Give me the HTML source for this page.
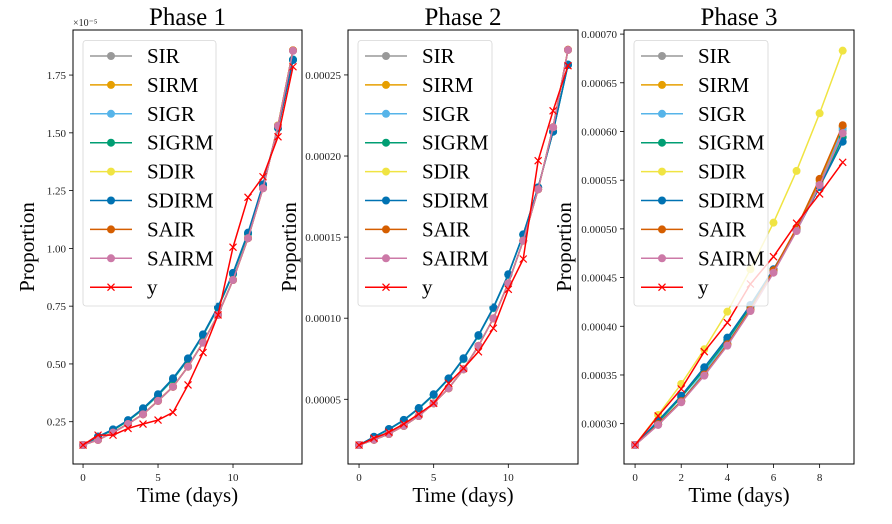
<!DOCTYPE html>
<html><head><meta charset="utf-8"><style>
body{margin:0;background:#fff}
svg{display:block;font-family:"Liberation Serif",serif}
</style></head><body>
<svg id="chart" width="892" height="524" viewBox="0 0 892 524" xmlns="http://www.w3.org/2000/svg"></svg>
<script>
const modelNames = ["SIR","SIRM","SIGR","SIGRM","SDIR","SDIRM","SAIR","SAIRM","y"];
const modelColors = ["#999999","#E69F00","#56B4E9","#009E73","#F0E442","#0072B2","#D55E00","#CC79A7","#FF0000"];
const days1 = [0,1,2,3,4,5,6,7,8,9,10,11,12,13,14];
const days3 = [0,1,2,3,4,5,6,7,8,9];
// Phase 1 (x1e-5)
const p1_SIR   = [0.149,0.172,0.204,0.241,0.283,0.341,0.402,0.489,0.593,0.713,0.864,1.045,1.262,1.532,1.856];
const p1_SIRM  = [0.149,0.172,0.204,0.241,0.283,0.341,0.402,0.489,0.593,0.713,0.864,1.045,1.262,1.532,1.857];
const p1_SIGR  = [0.149,0.183,0.213,0.253,0.303,0.363,0.432,0.518,0.622,0.742,0.888,1.062,1.272,1.520,1.818];
const p1_SIGRM = [0.149,0.184,0.214,0.254,0.304,0.365,0.434,0.520,0.624,0.744,0.890,1.064,1.274,1.521,1.816];
const p1_SDIR  = [0.149,0.171,0.203,0.240,0.282,0.340,0.401,0.488,0.592,0.712,0.863,1.044,1.261,1.531,1.856];
const p1_SDIRM = [0.149,0.186,0.217,0.257,0.308,0.369,0.438,0.524,0.628,0.748,0.894,1.068,1.277,1.522,1.815];
const p1_SAIR  = [0.149,0.171,0.203,0.240,0.282,0.340,0.401,0.488,0.592,0.712,0.863,1.044,1.260,1.530,1.857];
const p1_SAIRM = [0.149,0.171,0.203,0.240,0.282,0.340,0.401,0.488,0.592,0.712,0.863,1.044,1.260,1.530,1.855];
const p1_y     = [0.149,0.192,0.192,0.221,0.240,0.257,0.290,0.409,0.549,0.712,1.005,1.221,1.310,1.483,1.786];
// Phase 2 (x1e-5)
const p2_SIR   = [2.18,2.50,2.86,3.36,3.97,4.75,5.68,6.85,8.29,9.99,12.15,14.78,17.95,21.77,26.54];
const p2_SIRM  = [2.18,2.50,2.86,3.36,3.97,4.75,5.68,6.85,8.29,9.99,12.15,14.78,17.95,21.77,26.55];
const p2_SIGR  = [2.18,2.66,3.13,3.69,4.41,5.26,6.24,7.47,8.90,10.61,12.66,15.13,18.05,21.52,25.65];
const p2_SIGRM = [2.18,2.67,3.15,3.71,4.43,5.28,6.26,7.50,8.93,10.64,12.69,15.15,18.06,21.51,25.63];
const p2_SDIR  = [2.18,2.50,2.86,3.36,3.97,4.75,5.68,6.85,8.29,9.99,12.15,14.78,17.95,21.77,26.54];
const p2_SDIRM = [2.18,2.69,3.17,3.73,4.46,5.31,6.29,7.53,8.96,10.67,12.71,15.17,18.07,21.50,25.61];
const p2_SAIR  = [2.18,2.50,2.86,3.36,3.97,4.75,5.68,6.85,8.29,9.99,12.15,14.78,17.95,21.77,26.55];
const p2_SAIRM = [2.18,2.50,2.86,3.36,3.97,4.75,5.68,6.85,8.29,9.99,12.15,14.78,17.95,21.77,26.54];
const p2_y     = [2.18,2.60,2.97,3.48,4.09,4.75,5.99,6.91,7.93,9.38,11.78,13.65,19.71,22.79,25.57];
// Phase 3 (x1e-5)
const p3_SIR   = [27.81,29.90,32.25,35.00,38.10,41.65,45.60,49.90,54.70,60.10];
const p3_SIRM  = [27.81,29.95,32.30,35.05,38.15,41.70,45.70,50.05,55.00,60.50];
const p3_SIGR  = [27.81,30.10,32.30,35.30,38.40,41.95,45.75,49.85,54.30,60.30];
const p3_SIGRM = [27.81,30.20,32.70,35.55,38.60,42.05,45.80,49.85,54.30,59.40];
const p3_SDIR  = [27.81,30.89,34.08,37.64,41.50,45.85,50.64,55.95,61.87,68.30];
const p3_SDIRM = [27.81,30.31,32.87,35.79,38.83,42.19,45.85,49.89,54.33,58.95];
const p3_SAIR  = [27.81,29.95,32.30,35.05,38.15,41.75,45.75,50.10,55.13,60.64];
const p3_SAIRM = [27.81,29.87,32.20,34.93,38.01,41.57,45.50,49.78,54.50,59.82];
const p3_y     = [27.81,30.79,33.56,37.39,40.37,44.34,47.15,50.58,53.59,56.84];
const p1Ticks = [0.25,0.50,0.75,1.00,1.25,1.50,1.75];
const p1TickLabels = ["0.25","0.50","0.75","1.00","1.25","1.50","1.75"];
const p2Ticks = [5,10,15,20,25];
const p2TickLabels = ["0.00005","0.00010","0.00015","0.00020","0.00025"];
const p3Ticks = [30,35,40,45,50,55,60,65,70];
const p3TickLabels = ["0.00030","0.00035","0.00040","0.00045","0.00050","0.00055","0.00060","0.00065","0.00070"];
const x12Ticks = [0,5,10];
const x3Ticks = [0,2,4,6,8];

const NS="http://www.w3.org/2000/svg";
const svg=document.getElementById('chart');
function mk(tag,attrs,parent){const e=document.createElementNS(NS,tag);for(const k in attrs)e.setAttribute(k,attrs[k]);(parent||svg).appendChild(e);return e;}

const panels=[
 {title:"Phase 1",L:73,R:302,T:30,B:464,xmin:-0.67,xmax:14.6,ymin:0.067,ymax:1.945,days:days1,
  series:[p1_SIR,p1_SIRM,p1_SIGR,p1_SIGRM,p1_SDIR,p1_SDIRM,p1_SAIR,p1_SAIRM,p1_y],yt:p1Ticks,ytl:p1TickLabels,xt:x12Ticks,ylabX:34,offset:true,legL:83,legR:216},
 {title:"Phase 2",L:348,R:578,T:30,B:464,xmin:-0.74,xmax:14.67,ymin:1.01,ymax:27.77,days:days1,
  series:[p2_SIR,p2_SIRM,p2_SIGR,p2_SIGRM,p2_SDIR,p2_SDIRM,p2_SAIR,p2_SAIRM,p2_y],yt:p2Ticks,ytl:p2TickLabels,xt:x12Ticks,ylabX:296,legL:358,legR:492},
 {title:"Phase 3",L:624,R:854,T:30,B:464,xmin:-0.48,xmax:9.49,ymin:25.86,ymax:70.42,days:days3,
  series:[p3_SIR,p3_SIRM,p3_SIGR,p3_SIGRM,p3_SDIR,p3_SDIRM,p3_SAIR,p3_SAIRM,p3_y],yt:p3Ticks,ytl:p3TickLabels,xt:x3Ticks,ylabX:571,legL:634,legR:768}
];

panels.forEach((p,pi)=>{
 const g=mk('g',{});
 
 
 const sx=v=>p.L+(v-p.xmin)/(p.xmax-p.xmin)*(p.R-p.L);
 const sy=v=>p.B-(v-p.ymin)/(p.ymax-p.ymin)*(p.B-p.T);
 const t=mk('text',{x:(p.L+p.R)/2,y:25,'text-anchor':'middle','font-size':25,fill:'#000'},g);
 t.textContent=p.title;
 
 
 // x ticks
 p.xt.forEach(v=>{
  const x=sx(v);
  mk('line',{x1:x,x2:x,y1:p.B,y2:p.B+4,stroke:'#000','stroke-width':0.8},g);
  const l=mk('text',{x:x,y:p.B+17,'text-anchor':'middle','font-size':11,fill:'#222'},g);
  l.textContent=v;
  
  
 });
 p.yt.forEach((v,i)=>{
  const y=sy(v);
  mk('line',{x1:p.L-4,x2:p.L,y1:y,y2:y,stroke:'#000','stroke-width':0.8},g);
  const l=mk('text',{x:p.L-7,y:y+4,'text-anchor':'end','font-size':11,fill:'#222'},g);
  l.textContent=p.ytl[i];
  
  
 });
 if(p.offset){
  const o=mk('text',{x:p.L,y:26,'font-size':10,fill:'#222'},g);
  o.textContent="×10⁻⁵";
  
  
 }
 const xl=mk('text',{x:(p.L+p.R)/2,y:502,'text-anchor':'middle','font-size':21,fill:'#000'},g);
 xl.textContent="Time (days)";
 
 
 const yl=mk('text',{x:p.ylabX,y:(p.T+p.B)/2,'text-anchor':'middle','font-size':21,fill:'#000',transform:`rotate(-90 ${p.ylabX} ${(p.T+p.B)/2})`},g);
 yl.textContent="Proportion";
 
 
 // series
 p.series.forEach((arr,si)=>{
  const c=modelColors[si];
  const sg=mk('g',{},g);
  
  
  const pts=arr.map((v,i)=>sx(p.days[i])+','+sy(v)).join(' ');
  mk('polyline',{points:pts,fill:'none',stroke:c,'stroke-width':1.5},sg);
  arr.forEach((v,i)=>{
   const x=sx(p.days[i]),y=sy(v);
   if(si===8){
    mk('path',{d:`M${x-3.5},${y-3.5}L${x+3.5},${y+3.5}M${x-3.5},${y+3.5}L${x+3.5},${y-3.5}`,stroke:c,'stroke-width':1.2},sg);
   } else {
    mk('circle',{cx:x,cy:y,r:4,fill:c},sg);
   }
  });
 });
 // legend
 const lg=mk('g',{},g);
 
 
 mk('rect',{x:p.legL,y:40.5,width:p.legR-p.legL,height:265.5,rx:3,fill:'#fff','fill-opacity':0.8,stroke:'#d6d6d6','stroke-width':0.8},lg);
 modelNames.forEach((n,i)=>{
  const y=56+i*28.9;
  const e=mk('g',{},lg);
  
  
  const x0=p.legL+7;
  mk('line',{x1:x0,x2:x0+42,y1:y,y2:y,stroke:modelColors[i],'stroke-width':1.5},e);
  if(i===8) mk('path',{d:`M${x0+17.5},${y-3.5}L${x0+24.5},${y+3.5}M${x0+17.5},${y+3.5}L${x0+24.5},${y-3.5}`,stroke:modelColors[i],'stroke-width':1.2},e);
  else mk('circle',{cx:x0+21,cy:y,r:4,fill:modelColors[i]},e);
  const tx=mk('text',{x:x0+57,y:y+7,'font-size':21,fill:'#000'},e);
  tx.textContent=n;
 });
 mk('rect',{x:p.L,y:p.T,width:p.R-p.L,height:p.B-p.T,fill:'none',stroke:'#000','stroke-width':1},g);
});
</script>
</body></html>
